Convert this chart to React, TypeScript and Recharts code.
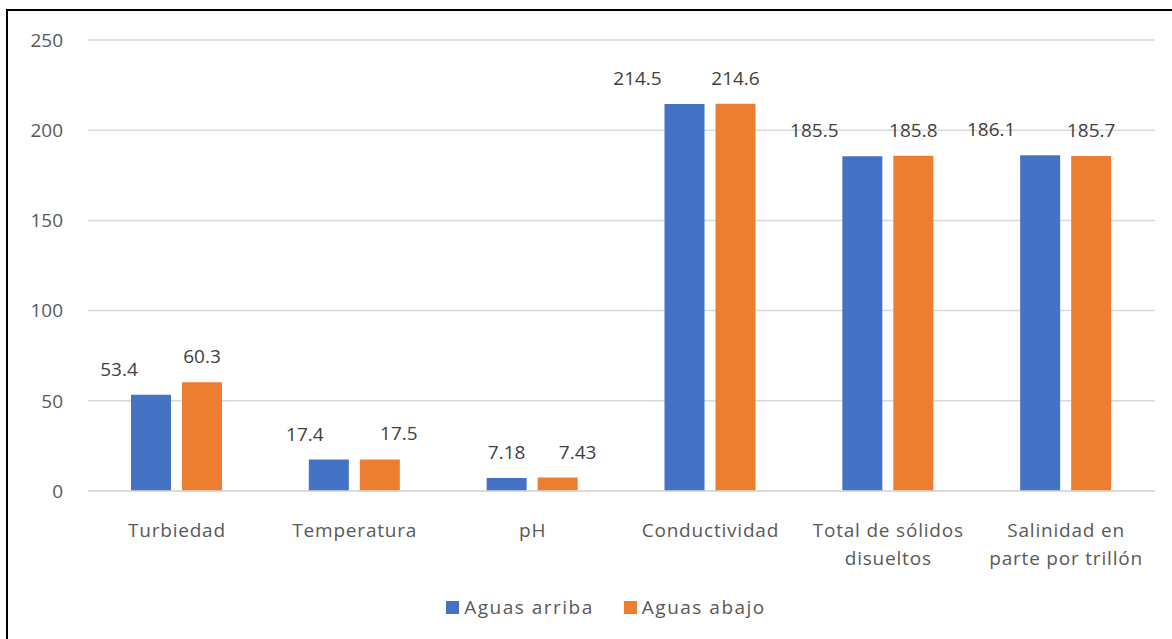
import React from "react";
import {
  BarChart,
  Bar,
  XAxis,
  YAxis,
  CartesianGrid,
  LabelList,
} from "recharts";

// Parámetros medidos aguas arriba / aguas abajo
const categories = [
  "Turbiedad",
  "Temperatura",
  "pH",
  "Conductividad",
  "Total de sólidos\ndisueltos",
  "Salinidad en\nparte por trillón",
];
const aguasArriba = [53.4, 17.4, 7.18, 214.5, 185.5, 186.1];
const aguasAbajo = [60.3, 17.5, 7.43, 214.6, 185.8, 185.7];
const yTicks = [0, 50, 100, 150, 200, 250];

// label nudges (the original labels were moved by hand)
const nudgeArriba = [-32, -24, 0, -47, -48, -49];
const nudgeAbajo = [0, 19, 20, 0, 0, 0];

const data = categories.map((name, i) => ({
  name,
  arriba: aguasArriba[i],
  abajo: aguasAbajo[i],
}));

const FONT = "'Open Sans', sans-serif";
const BLUE = "#4472C4";
const ORANGE = "#ED7D31";

const CategoryTick = (props: any) => {
  const { x, y, payload } = props;
  const lines = String(payload.value).split("\n");
  return (
    <text
      x={x}
      y={y + 38}
      textAnchor="middle"
      fill="#595959"
      fontSize={19}
      fontFamily={FONT}
      letterSpacing={0.8}
    >
      {lines.map((l, i) => (
        <tspan key={i} x={x} dy={i === 0 ? 0 : 28}>
          {l}
        </tspan>
      ))}
    </text>
  );
};

const makeLabel = (nudges: number[]) => (props: any) => {
  const { x, y, width, value, index } = props;
  return (
    <text
      x={x + width / 2 + nudges[index]}
      y={y - 19}
      textAnchor="middle"
      fill="#404040"
      fontSize={19}
      fontFamily={FONT}
    >
      {value}
    </text>
  );
};

const LegendBox = () => (
  <div
    style={{
      position: "absolute",
      top: 594,
      left: 0,
      width: 1172,
      boxSizing: "border-box",
      paddingLeft: 40,
      display: "flex",
      justifyContent: "center",
      alignItems: "center",
      gap: 30,
      fontFamily: FONT,
      fontSize: 19,
      letterSpacing: 1.5,
      color: "#595959",
    }}
  >
    {[
      { label: "Aguas arriba", color: BLUE },
      { label: "Aguas abajo", color: ORANGE },
    ].map((item) => (
      <div key={item.label} style={{ display: "flex", alignItems: "center" }}>
        <span
          style={{
            width: 13,
            height: 13,
            background: item.color,
            display: "inline-block",
            marginRight: 5,
          }}
        />
        <span>{item.label}</span>
      </div>
    ))}
  </div>
);

export default function App() {
  return (
    <div
      style={{
        position: "fixed",
        inset: 0,
        overflow: "hidden",
        background: "#fff",
      }}
    >
      <div
        style={{
          position: "absolute",
          left: 6,
          top: 9,
          width: 1200,
          height: 700,
          borderLeft: "2px solid #000",
          borderTop: "2px solid #000",
        }}
      />
      <div style={{ position: "absolute", left: 0, top: 0 }}>
        <BarChart
          width={1172}
          height={639}
          data={data}
          margin={{ top: 40, right: 17, left: 28, bottom: 48 }}
          barGap={11}
          barCategoryGap={43}
        >
          <CartesianGrid vertical={false} stroke="#d9d9d9" strokeWidth={1.5} />
          <XAxis
            dataKey="name"
            tickLine={false}
            axisLine={{ stroke: "#d9d9d9", strokeWidth: 1.5 }}
            tick={<CategoryTick />}
            interval={0}
            height={100}
          />
          <YAxis
            domain={[0, 250]}
            ticks={yTicks}
            width={60}
            tickLine={false}
            axisLine={false}
            tickSize={0}
            tickMargin={25}
            tick={{ fill: "#595959", fontSize: 19, fontFamily: FONT }}
          />
          <Bar dataKey="arriba" name="Aguas arriba" fill={BLUE} isAnimationActive={false}>
            <LabelList dataKey="arriba" content={makeLabel(nudgeArriba)} />
          </Bar>
          <Bar dataKey="abajo" name="Aguas abajo" fill={ORANGE} isAnimationActive={false}>
            <LabelList dataKey="abajo" content={makeLabel(nudgeAbajo)} />
          </Bar>
        </BarChart>
      </div>
      <LegendBox />
    </div>
  );
}
